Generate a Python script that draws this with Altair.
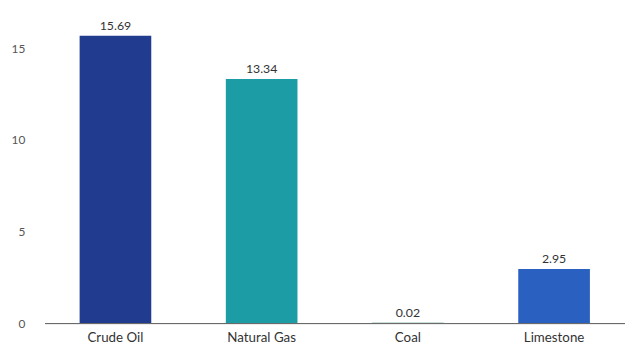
import altair as alt
import pandas as pd

categories = ["Crude Oil", "Natural Gas", "Coal", "Limestone"]
values = [15.69, 13.34, 0.02, 2.95]
colors = ["#213C8E", "#1C9DA5", "#2E7D6B", "#2A60C0"]
labels = ["15.69", "13.34", "0.02", "2.95"]
y_ticks = [0, 5, 10, 15]

df = pd.DataFrame({"cat": categories, "val": values, "label": labels})

x = alt.X("cat:N", sort=categories, title=None,
          scale=alt.Scale(paddingInner=0.51, paddingOuter=0.24),
          axis=alt.Axis(labelAngle=0, ticks=False, domainColor="#555555",
                        domainWidth=1, labelFont="Lato", labelFontSize=13.5,
                        labelColor="#333333", labelPadding=8, grid=False))
y = alt.Y("val:Q", title=None,
          scale=alt.Scale(domain=[0, 16.5], nice=False),
          axis=alt.Axis(values=y_ticks, grid=False, domain=False, ticks=False,
                        labelFont="Lato", labelFontSize=12, labelColor="#555555",
                        labelPadding=20))

bars = alt.Chart(df).mark_bar().encode(
    x=x, y=y,
    color=alt.Color("cat:N", sort=categories, legend=None,
                    scale=alt.Scale(domain=categories, range=colors)),
)
text = alt.Chart(df).mark_text(dy=-10, font="Lato", fontSize=12.5, color="#333333").encode(
    x=alt.X("cat:N", sort=categories), y="val:Q", text="label:N"
)

chart = (bars + text).properties(
    width=588, height=306,
    background="white",
    autosize=alt.AutoSizeParams(type="none"),
    padding={"left": 37, "top": 11, "right": 0, "bottom": 24},
).configure_view(stroke=None)

chart.save("out.html", embed_options={"renderer": "svg", "actions": False})
